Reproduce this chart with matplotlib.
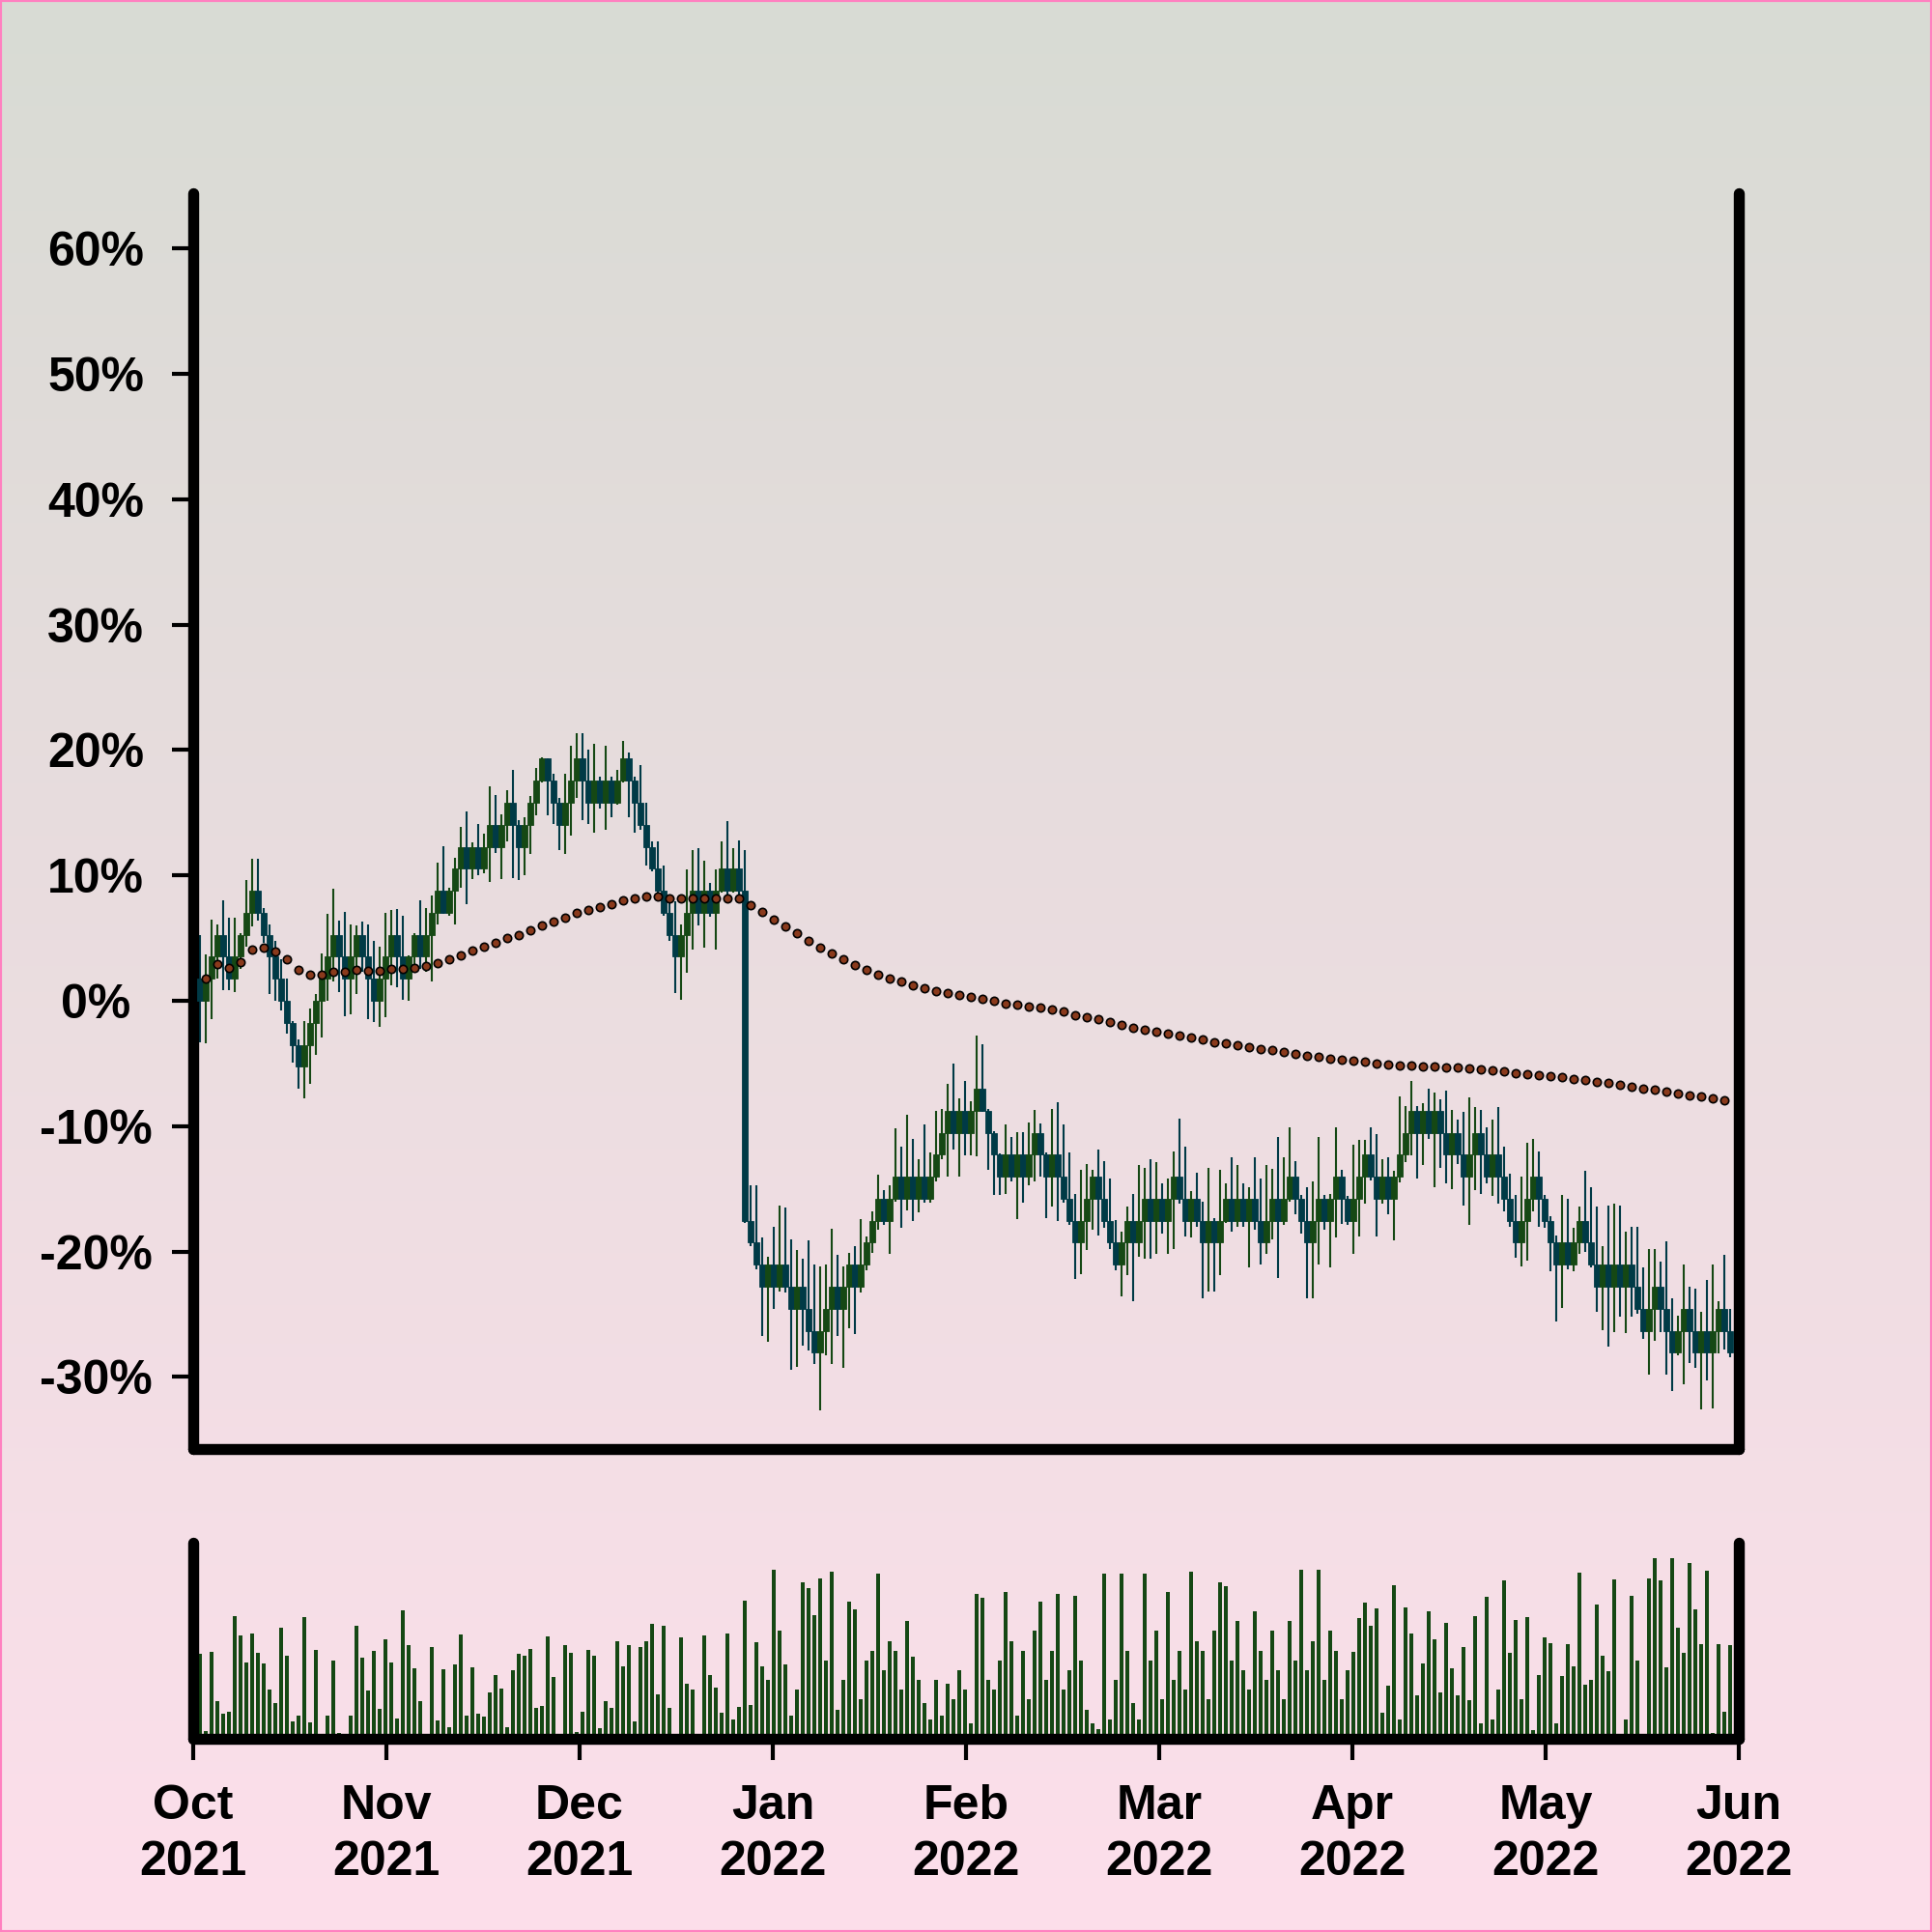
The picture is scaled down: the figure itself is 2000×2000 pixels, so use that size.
import numpy as np
import matplotlib
matplotlib.use("Agg")
import matplotlib.pyplot as plt
from matplotlib.patches import Rectangle

plt.rcParams['font.family'] = ['Liberation Sans', 'DejaVu Sans']
plt.rcParams['font.weight'] = 'bold'

month_labels = ['Oct\n2021', 'Nov\n2021', 'Dec\n2021', 'Jan\n2022', 'Feb\n2022',
                'Mar\n2022', 'Apr\n2022', 'May\n2022', 'Jun\n2022']
y_ticks = [-30, -20, -10, 0, 10, 20, 30, 40, 50, 60]

open_pct = [
    1.75, 0.0, 1.75, 3.51, 5.26, 3.51, 1.75, 3.51, 5.26, 7.02,
    8.77, 7.02, 5.26, 3.51, 1.75, 0.0, -1.75, -3.51, -5.26, -3.51,
    -1.75, 0.0, 1.75, 3.51, 5.26, 3.51, 1.75, 3.51, 5.26, 3.51,
    1.75, 0.0, 1.75, 3.51, 5.26, 3.51, 1.75, 3.51, 5.26, 3.51,
    5.26, 7.02, 8.77, 7.02, 8.77, 10.53, 12.28, 10.53, 12.28, 10.53,
    12.28, 14.04, 12.28, 14.04, 15.79, 14.04, 12.28, 14.04, 15.79, 17.54,
    19.30, 17.54, 15.79, 14.04, 15.79, 17.54, 19.30, 17.54, 15.79, 17.54,
    15.79, 17.54, 15.79, 17.54, 19.30, 17.54, 15.79, 14.04, 12.28, 10.53,
    8.77, 7.02, 5.26, 3.51, 5.26, 7.02, 8.77, 7.02, 8.77, 7.02,
    8.77, 10.53, 8.77, 10.53, 8.77, -17.54, -19.30, -21.05, -22.81, -21.05,
    -22.81, -21.05, -22.81, -24.56, -22.81, -24.56, -26.32, -28.07, -26.32, -24.56,
    -22.81, -24.56, -22.81, -21.05, -22.81, -21.05, -19.30, -17.54, -15.79, -17.54,
    -15.79, -14.04, -15.79, -14.04, -15.79, -14.04, -15.79, -14.04, -12.28, -10.53,
    -8.77, -10.53, -8.77, -10.53, -8.77, -7.02, -8.77, -10.53, -12.28, -14.04,
    -12.28, -14.04, -12.28, -14.04, -12.28, -10.53, -12.28, -14.04, -12.28, -14.04,
    -15.79, -17.54, -19.30, -17.54, -15.79, -14.04, -15.79, -17.54, -19.30, -21.05,
    -19.30, -17.54, -19.30, -17.54, -15.79, -17.54, -15.79, -17.54, -15.79, -14.04,
    -15.79, -17.54, -15.79, -17.54, -19.30, -17.54, -19.30, -17.54, -15.79, -17.54,
    -15.79, -17.54, -15.79, -17.54, -19.30, -17.54, -15.79, -17.54, -15.79, -14.04,
    -15.79, -17.54, -19.30, -17.54, -15.79, -17.54, -15.79, -14.04, -15.79, -17.54,
    -15.79, -14.04, -12.28, -14.04, -15.79, -14.04, -15.79, -14.04, -12.28, -10.53,
    -8.77, -10.53, -8.77, -10.53, -8.77, -10.53, -12.28, -10.53, -12.28, -14.04,
    -12.28, -10.53, -12.28, -14.04, -12.28, -14.04, -15.79, -17.54, -19.30, -17.54,
    -15.79, -14.04, -15.79, -17.54, -19.30, -21.05, -19.30, -21.05, -19.30, -17.54,
    -19.30, -21.05, -22.81, -21.05, -22.81, -21.05, -22.81, -21.05, -22.81, -24.56,
    -26.32, -24.56, -22.81, -24.56, -26.32, -28.07, -26.32, -24.56, -26.32, -28.07,
    -26.32, -28.07, -26.32, -24.56, -26.32]

close_pct = [
    0.0, 1.75, 3.51, 5.26, 3.51, 1.75, 3.51, 5.26, 7.02, 8.77,
    7.02, 5.26, 3.51, 1.75, 0.0, -1.75, -3.51, -5.26, -3.51, -1.75,
    0.0, 1.75, 3.51, 5.26, 3.51, 1.75, 3.51, 5.26, 3.51, 1.75,
    0.0, 1.75, 3.51, 5.26, 3.51, 1.75, 3.51, 5.26, 3.51, 5.26,
    7.02, 8.77, 7.02, 8.77, 10.53, 12.28, 10.53, 12.28, 10.53, 12.28,
    14.04, 12.28, 14.04, 15.79, 14.04, 12.28, 14.04, 15.79, 17.54, 19.30,
    17.54, 15.79, 14.04, 15.79, 17.54, 19.30, 17.54, 15.79, 17.54, 15.79,
    17.54, 15.79, 17.54, 19.30, 17.54, 15.79, 14.04, 12.28, 10.53, 8.77,
    7.02, 5.26, 3.51, 5.26, 7.02, 8.77, 7.02, 8.77, 7.02, 8.77,
    10.53, 8.77, 10.53, 8.77, -17.54, -19.30, -21.05, -22.81, -21.05, -22.81,
    -21.05, -22.81, -24.56, -22.81, -24.56, -26.32, -28.07, -26.32, -24.56, -22.81,
    -24.56, -22.81, -21.05, -22.81, -21.05, -19.30, -17.54, -15.79, -17.54, -15.79,
    -14.04, -15.79, -14.04, -15.79, -14.04, -15.79, -14.04, -12.28, -10.53, -8.77,
    -10.53, -8.77, -10.53, -8.77, -7.02, -8.77, -10.53, -12.28, -14.04, -12.28,
    -14.04, -12.28, -14.04, -12.28, -10.53, -12.28, -14.04, -12.28, -14.04, -15.79,
    -17.54, -19.30, -17.54, -15.79, -14.04, -15.79, -17.54, -19.30, -21.05, -19.30,
    -17.54, -19.30, -17.54, -15.79, -17.54, -15.79, -17.54, -15.79, -14.04, -15.79,
    -17.54, -15.79, -17.54, -19.30, -17.54, -19.30, -17.54, -15.79, -17.54, -15.79,
    -17.54, -15.79, -17.54, -19.30, -17.54, -15.79, -17.54, -15.79, -14.04, -15.79,
    -17.54, -19.30, -17.54, -15.79, -17.54, -15.79, -14.04, -15.79, -17.54, -15.79,
    -14.04, -12.28, -14.04, -15.79, -14.04, -15.79, -14.04, -12.28, -10.53, -8.77,
    -10.53, -8.77, -10.53, -8.77, -10.53, -12.28, -10.53, -12.28, -14.04, -12.28,
    -10.53, -12.28, -14.04, -12.28, -14.04, -15.79, -17.54, -19.30, -17.54, -15.79,
    -14.04, -15.79, -17.54, -19.30, -21.05, -19.30, -21.05, -19.30, -17.54, -19.30,
    -21.05, -22.81, -21.05, -22.81, -21.05, -22.81, -21.05, -22.81, -24.56, -26.32,
    -24.56, -22.81, -24.56, -26.32, -28.07, -26.32, -24.56, -26.32, -28.07, -26.32,
    -28.07, -26.32, -24.56, -26.32, -28.07]

high_pct = [
    5.2, 3.7, 6.5, 6.1, 8.0, 6.6, 6.6, 5.4, 9.6, 11.3,
    11.3, 7.4, 6.1, 4.8, 3.3, 1.75, -1.6, -3.1, -1.6, -0.6,
    0.5, 3.8, 6.9, 8.9, 6.4, 7.1, 6.1, 6.0, 6.3, 6.1,
    4.8, 4.3, 7.0, 7.2, 7.3, 6.8, 3.6, 5.4, 8.0, 7.4,
    8.4, 11.0, 12.3, 9.0, 11.4, 13.9, 15.1, 12.6, 14.1, 13.3,
    17.1, 16.4, 14.9, 16.8, 18.4, 14.4, 14.6, 16.3, 18.6, 19.4,
    19.3, 18.1, 16.2, 18.1, 20.3, 21.3, 21.3, 20.0, 20.5, 17.9,
    20.3, 17.9, 18.4, 20.7, 19.8, 17.9, 18.8, 15.8, 12.7, 12.7,
    10.8, 7.9, 7.9, 6.1, 10.5, 12.0, 12.2, 11.2, 9.4, 10.5,
    12.7, 14.3, 12.2, 12.8, 12.0, -14.7, -14.7, -18.9, -20.4, -18.0,
    -16.3, -16.5, -19.0, -19.9, -20.6, -19.1, -21.0, -21.2, -21.0, -18.2,
    -20.3, -21.2, -20.1, -19.6, -17.4, -18.8, -16.8, -13.9, -15.1, -14.7,
    -10.2, -11.6, -9.1, -11.0, -12.6, -9.9, -12.1, -8.8, -8.6, -6.6,
    -5.0, -7.8, -6.4, -8.0, -2.8, -3.5, -8.6, -10.4, -12.2, -9.9,
    -10.9, -10.5, -10.5, -9.7, -8.7, -9.8, -12.1, -8.6, -8.1, -9.9,
    -12.1, -15.4, -13.5, -13.0, -13.5, -11.9, -12.8, -14.2, -17.5, -18.4,
    -16.4, -15.4, -13.1, -13.3, -12.6, -12.9, -14.6, -14.2, -12.0, -9.4,
    -11.6, -15.2, -13.7, -16.0, -13.3, -17.3, -13.5, -14.6, -12.5, -13.1,
    -14.6, -14.9, -12.5, -14.2, -13.1, -13.4, -10.9, -12.5, -10.1, -12.8,
    -15.5, -14.9, -14.4, -10.9, -15.5, -15.4, -10.1, -13.5, -15.6, -11.5,
    -11.1, -11.1, -10.1, -10.6, -12.6, -12.5, -13.6, -7.6, -8.4, -6.4,
    -8.4, -8.2, -7.0, -7.3, -7.9, -7.2, -8.7, -9.5, -8.9, -7.7,
    -8.5, -8.7, -10.1, -9.5, -8.5, -11.6, -13.8, -15.5, -14.0, -11.3,
    -11.0, -12.0, -15.5, -17.2, -18.7, -15.5, -15.8, -18.1, -16.4, -13.6,
    -14.9, -16.4, -19.6, -16.3, -16.2, -16.3, -18.4, -18.0, -18.0, -21.3,
    -19.8, -19.8, -20.8, -19.2, -23.7, -25.1, -21.0, -22.8, -23.0, -24.8,
    -22.3, -21.0, -24.0, -20.3, -24.6]

low_pct = [
    -3.3, -3.4, -1.5, 1.8, 0.85, 0.85, 0.7, 2.5, 4.3, 5.9,
    6.4, 4.6, 0.5, 0.0, -0.8, -2.6, -4.9, -7.0, -7.8, -6.6,
    -4.3, -2.9, 0.0, 1.5, 0.7, -1.2, -1.1, 0.5, 2.3, -1.5,
    -1.7, -2.1, -1.3, 1.2, 1.1, 0.1, 0.0, 2.3, 2.5, 2.3,
    1.5, 6.1, 6.9, 6.8, 6.1, 9.0, 7.7, 9.7, 10.0, 10.2,
    9.5, 11.8, 9.7, 12.7, 9.8, 9.6, 10.0, 11.7, 14.8, 17.4,
    14.8, 14.1, 12.0, 11.7, 13.2, 16.2, 14.4, 14.1, 13.4, 15.3,
    13.6, 14.6, 15.6, 17.4, 14.6, 13.4, 13.6, 10.8, 10.3, 8.6,
    6.8, 4.8, 0.6, 0.1, 2.2, 4.1, 6.0, 4.2, 6.7, 4.1,
    8.6, 8.3, 8.6, 8.4, -17.7, -19.6, -21.4, -26.7, -27.2, -24.6,
    -23.2, -23.3, -29.4, -29.2, -27.5, -27.9, -29.0, -32.7, -28.3, -29.0,
    -26.7, -29.3, -26.1, -26.6, -23.3, -21.5, -20.1, -18.3, -17.9, -20.2,
    -16.0, -18.1, -16.7, -17.6, -16.9, -16.1, -16.1, -14.4, -12.6, -14.0,
    -11.9, -14.0, -12.3, -12.3, -12.4, -8.9, -13.5, -15.5, -15.5, -15.4,
    -14.4, -17.4, -16.1, -14.7, -14.4, -14.0, -17.3, -16.4, -17.6, -16.1,
    -17.9, -22.2, -21.8, -19.9, -18.3, -18.7, -18.1, -19.8, -21.5, -23.6,
    -21.9, -24.0, -20.4, -20.6, -20.6, -20.2, -18.6, -20.2, -19.8, -16.2,
    -18.8, -18.9, -18.0, -23.7, -23.2, -23.2, -21.9, -17.7, -18.4, -18.0,
    -18.0, -21.3, -18.3, -21.0, -20.2, -19.0, -22.1, -17.9, -16.0, -17.0,
    -18.6, -23.7, -23.7, -21.0, -18.3, -21.3, -18.9, -17.8, -17.9, -20.2,
    -18.8, -16.2, -14.3, -18.8, -16.2, -17.0, -19.1, -14.5, -12.9, -12.3,
    -14.2, -13.1, -11.0, -14.9, -13.3, -14.6, -15.0, -13.0, -16.3, -17.9,
    -15.1, -15.4, -14.6, -15.6, -16.2, -16.8, -18.0, -20.5, -21.2, -20.7,
    -16.8, -18.0, -18.1, -21.6, -25.6, -24.5, -21.4, -21.6, -20.2, -20.0,
    -21.3, -24.8, -26.3, -27.6, -26.4, -25.2, -26.5, -25.2, -25.0, -27.0,
    -29.8, -27.1, -26.4, -29.8, -31.1, -28.3, -30.6, -28.9, -29.3, -32.6,
    -30.3, -32.5, -28.1, -27.8, -28.4]

volume = [
    43.3, 3.9, 44.2, 19.2, 13.0, 13.8, 62.4, 52.5, 38.9, 53.5,
    44.0, 38.6, 25.0, 18.2, 56.5, 42.5, 8.9, 11.8, 62.2, 8.4,
    45.3, 0, 11.8, 39.7, 2.8, 0, 11.8, 57.5, 41.5, 24.6,
    44.8, 15.3, 50.9, 38.9, 10.2, 65.4, 47.6, 36.0, 19.0, 0,
    46.6, 9.4, 35.3, 5.7, 37.9, 53.0, 11.8, 36.5, 12.6, 11.5,
    23.5, 32.7, 25.5, 5.7, 35.0, 43.3, 42.5, 45.6, 15.8, 16.6,
    52.1, 31.7, 0, 47.9, 43.7, 3.6, 13.8, 45.2, 42.2, 5.3,
    19.2, 15.6, 49.8, 36.9, 47.8, 8.7, 46.6, 49.8, 58.5, 22.8,
    57.8, 15.8, 0.3, 51.6, 28.1, 25.3, 0.3, 52.7, 32.3, 26.3,
    13.1, 53.7, 9.9, 16.1, 70.3, 17.1, 49.3, 36.8, 30, 86,
    55, 38, 12, 25, 80, 77, 63, 82, 40, 85,
    15, 30, 70, 66, 20, 40, 45, 84, 35, 50,
    45, 25, 60, 42, 30, 18, 10, 30, 12, 28,
    20, 35, 25, 8, 74, 72, 30, 25, 40, 75,
    50, 12, 45, 20, 55, 70, 30, 45, 74, 25,
    35, 73, 40, 15, 8, 5, 84, 10, 30, 84,
    45, 18, 10, 84, 40, 55, 20, 75, 30, 45,
    25, 85, 50, 45, 20, 55, 80, 78, 40, 60,
    35, 25, 65, 45, 30, 55, 35, 20, 60, 40,
    86, 35, 50, 86, 30, 55, 45, 20, 35, 44.2,
    61.4, 69.6, 57.6, 66.3, 13.1, 26.9, 78.3, 9.7, 66.8, 53.5,
    22.3, 38.4, 64.9, 50.7, 23.8, 59.1, 36.1, 22.0, 46.6, 19.9,
    62.4, 7.7, 72.6, 9.9, 25.0, 80.8, 43.7, 60.8, 20.0, 62.1,
    4.6, 32.5, 51.9, 48.9, 7.7, 32.0, 48.4, 36.8, 84.6, 27.8,
    30.0, 68.3, 42.2, 34.5, 81.1, 0, 9.7, 72.9, 39.9, 0,
    81.9, 92.3, 80.8, 36.3, 92.3, 56.5, 43.8, 89.5, 66.2, 48.3,
    85.6, 3.1, 48.4, 13.8, 47.9]

# moving average, sampled on every other candle (odd candles 1, 3, 5, ...)
ma_pct = [
    1.75, 2.9, 2.6, 3.1, 4.1, 4.25, 3.9, 3.3, 2.45, 2.1,
    2.06, 2.3, 2.27, 2.45, 2.4, 2.37, 2.52, 2.5, 2.63, 2.75,
    3.0, 3.27, 3.63, 4.0, 4.33, 4.58, 5.0, 5.2, 5.6, 6.0,
    6.3, 6.6, 7.0, 7.25, 7.5, 7.7, 8.0, 8.2, 8.3, 8.3,
    8.2, 8.15, 8.15, 8.2, 8.2, 8.2, 8.2, 7.6, 7.05, 6.5,
    5.9, 5.4, 4.8, 4.25, 3.74, 3.27, 2.85, 2.45, 2.1, 1.8,
    1.5, 1.25, 1.0, 0.8, 0.6, 0.45, 0.3, 0.15, 0.0, -0.2,
    -0.3, -0.45, -0.57, -0.7, -0.87, -1.13, -1.28, -1.46, -1.67, -1.93,
    -2.13, -2.29, -2.46, -2.62, -2.77, -2.9, -3.06, -3.29, -3.42, -3.54,
    -3.67, -3.83, -3.95, -4.08, -4.21, -4.37, -4.47, -4.6, -4.7, -4.8,
    -4.88, -4.98, -5.06, -5.14, -5.19, -5.21, -5.24, -5.29, -5.34, -5.42,
    -5.47, -5.55, -5.62, -5.75, -5.83, -5.91, -6.01, -6.11, -6.22, -6.34,
    -6.47, -6.57, -6.7, -6.86, -6.98, -7.11, -7.27, -7.4, -7.53, -7.65,
    -7.81, -7.96]

# ---------------------------------------------------------------- drawing
N = len(close_pct)
x = np.arange(N)
o = np.array(open_pct)
c = np.array(close_pct)
h = np.array(high_pct)
l = np.array(low_pct)
vol = np.array(volume)
ma = np.array(ma_pct)
ma_x = np.arange(1, N, 2)[:len(ma)]

GREEN = '#154814'
TEAL = '#003a46'
MA_FILL = '#8a3a1c'
XL = (-1.17, 265.5)

fig = plt.figure(figsize=(10, 10), dpi=200)

bg = fig.add_axes([0, 0, 1, 1], zorder=-10)
top_c = np.array([216, 219, 212]) / 255.0
bot_c = np.array([253, 223, 235]) / 255.0
t = np.linspace(0, 1, 512)[:, None, None]
grad = top_c * (1 - t) + bot_c * t
bg.imshow(grad, aspect='auto', extent=[0, 1, 0, 1], interpolation='bilinear')
bg.set_axis_off()

ax = fig.add_axes([0.1, 0.25, 0.8, 0.65])
vax = fig.add_axes([0.1, 0.1, 0.8, 0.1015])
for a in (ax, vax):
    a.patch.set_visible(False)
    a.spines['top'].set_visible(False)
    for s in ('left', 'right', 'bottom'):
        a.spines[s].set_linewidth(4.1)
        a.spines[s].set_capstyle('round')
        a.spines[s].set_color('black')
    a.set_xlim(*XL)

up = c >= o
cols = np.where(up, GREEN, TEAL)
ax.vlines(x, l, h, colors=cols, linewidth=0.75, zorder=2)
ax.bar(x, np.abs(c - o), bottom=np.minimum(o, c), width=1.0, color=cols,
       edgecolor=cols, linewidth=0.3, zorder=3)
ax.plot(ma_x, ma, ls='none', marker='o', ms=3.0, mfc=MA_FILL, mec='black',
        mew=0.6, zorder=4)
ax.set_ylim(-35.75, 64.4)
ax.set_yticks(y_ticks)
ax.set_yticklabels([f'{v}%' for v in y_ticks], ha='center')
ax.tick_params(axis='y', direction='out', length=8, width=1.5, pad=28.3,
               labelsize=18, left=True, right=False, colors='black')
ax.set_xticks([])

vax.bar(x, vol, width=0.55, color=GREEN, zorder=2)
vax.set_ylim(0, 100)
vax.set_yticks([])
vax.set_xticks(np.linspace(XL[0], XL[1], len(month_labels)))
vax.set_xticklabels(month_labels, linespacing=1.33)
vax.tick_params(axis='x', direction='out', length=8, width=1.5, pad=9,
                labelsize=18, colors='black')

fig.add_artist(Rectangle((0, 0), 1, 1, transform=fig.transFigure, fill=False,
                         edgecolor='#ff80c0', linewidth=1.5, zorder=100))
fig.savefig('out.png', dpi=200)
